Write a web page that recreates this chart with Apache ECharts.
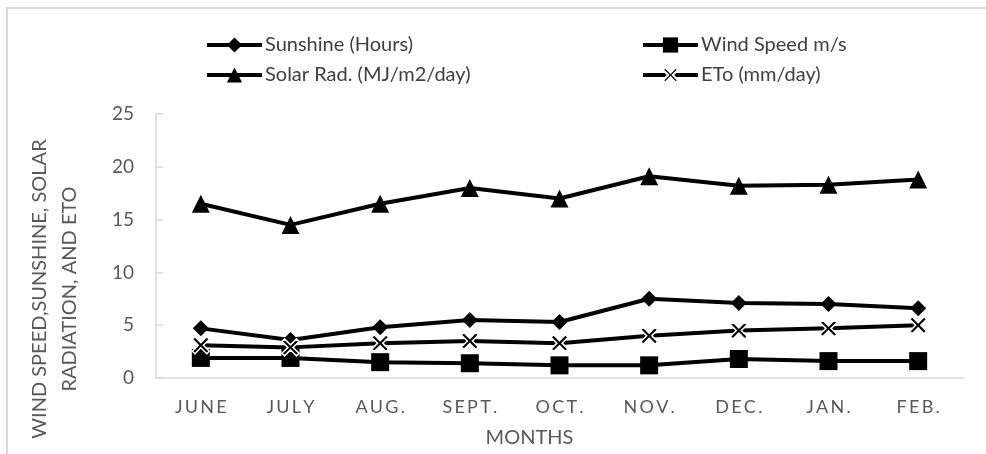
<!DOCTYPE html>
<html>
<head>
<meta charset="utf-8">
<script src="https://cdn.jsdelivr.net/npm/echarts@6/dist/echarts.min.js"></script>
<style>
  html, body { margin: 0; padding: 0; background: #fff; }
  #chart { width: 986px; height: 454px; }
</style>
</head>
<body>
<div id="chart"></div>
<script>
// Monthly climate series
const months = ['JUNE', 'JULY', 'AUG.', 'SEPT.', 'OCT.', 'NOV.', 'DEC.', 'JAN.', 'FEB.'];
const sunshine = [4.7, 3.6, 4.8, 5.5, 5.3, 7.5, 7.1, 7.0, 6.6];
const windSpeed = [1.9, 1.9, 1.5, 1.4, 1.2, 1.2, 1.8, 1.6, 1.6];
const solarRad = [16.5, 14.5, 16.5, 18.0, 17.0, 19.1, 18.2, 18.3, 18.8];
const eto = [3.1, 2.9, 3.3, 3.5, 3.3, 4.0, 4.5, 4.7, 5.0];
const yTicks = [0, 5, 10, 15, 20, 25];

const FONT = 'Lato, "Open Sans", sans-serif';
// filled "x" outline so the marker can carry a white halo
const crossPath = 'path://M0,1.5L1.5,0L5,3.5L8.5,0L10,1.5L6.5,5L10,8.5L8.5,10L5,6.5L1.5,10L0,8.5L3.5,5Z';

function lineSeries(name, data, symbol, size, extra) {
  return Object.assign({
    name: name,
    type: 'line',
    data: data,
    symbol: symbol,
    symbolSize: size,
    lineStyle: { color: '#000', width: 4 },
    itemStyle: { color: '#000' },
    emphasis: { disabled: true }
  }, extra || {});
}

const chart = echarts.init(document.getElementById('chart'));

function legendAt(name, left, top) {
  return {
    data: [name],
    left: left,
    top: top,
    itemWidth: 55,
    itemHeight: 19,
    itemGap: 4,
    lineStyle: { width: 4 },
    textStyle: { fontFamily: FONT, fontSize: 20, color: '#404040', padding: [0, 0, 0, -2] }
  };
}

chart.setOption({
  animation: false,
  backgroundColor: '#fff',
  legend: [
    legendAt('Sunshine (Hours)', 200, 30),
    legendAt('Wind Speed m/s', 636, 30),
    legendAt('Solar Rad. (MJ/m2/day)', 200, 60),
    legendAt('ETo (mm/day)', 636, 60)
  ],
  grid: { left: 156, right: 23, top: 114, bottom: 76 },
  xAxis: {
    type: 'category',
    data: months,
    boundaryGap: true,
    axisLine: { lineStyle: { color: '#d9d9d9', width: 1.5 } },
    axisTick: { inside: true, length: 6, lineStyle: { color: '#d9d9d9', width: 1.5 } },
    axisLabel: {
      margin: 20,
      fontFamily: FONT,
      fontSize: 18,
      color: '#595959',
      formatter: v => v.split('').join('\u2009')
    },
    name: 'MONTHS',
    nameLocation: 'middle',
    nameGap: 50,
    nameTextStyle: { fontFamily: FONT, fontSize: 20, color: '#595959', padding: [0, 60, 0, 0] }
  },
  yAxis: {
    type: 'value',
    min: yTicks[0],
    max: yTicks[yTicks.length - 1],
    interval: 5,
    splitLine: { show: false },
    axisLine: { show: true, lineStyle: { color: '#d9d9d9', width: 1.5 } },
    axisTick: { show: true, inside: true, length: 7, lineStyle: { color: '#d9d9d9', width: 1.5 } },
    axisLabel: { margin: 22, fontFamily: FONT, fontSize: 19, color: '#595959' }
  },
  graphic: [
    {
      type: 'rect',
      shape: { x: 7, y: 8, width: 1200, height: 600 },
      style: { fill: 'none', stroke: '#d9d9d9', lineWidth: 2 },
      silent: true
    },
    {
      type: 'text',
      x: 55,
      y: 289,
      rotation: Math.PI / 2,
      style: {
        text: 'WIND SPEED,SUNSHINE, SOLAR\nRADIATION, AND ETO',
        fontFamily: FONT,
        fontSize: 20,
        lineHeight: 30,
        fill: '#595959',
        align: 'center',
        verticalAlign: 'middle'
      },
      silent: true
    }
  ],
  series: [
    lineSeries('Sunshine (Hours)', sunshine, 'diamond', 16),
    lineSeries('Wind Speed m/s', windSpeed, 'rect', 18),
    lineSeries('Solar Rad. (MJ/m2/day)', solarRad, 'triangle', 18),
    lineSeries('ETo (mm/day)', eto, crossPath, 17, {
      itemStyle: { color: '#000', borderColor: '#fff', borderWidth: 1.5 }
    })
  ]
});
</script>
</body>
</html>
